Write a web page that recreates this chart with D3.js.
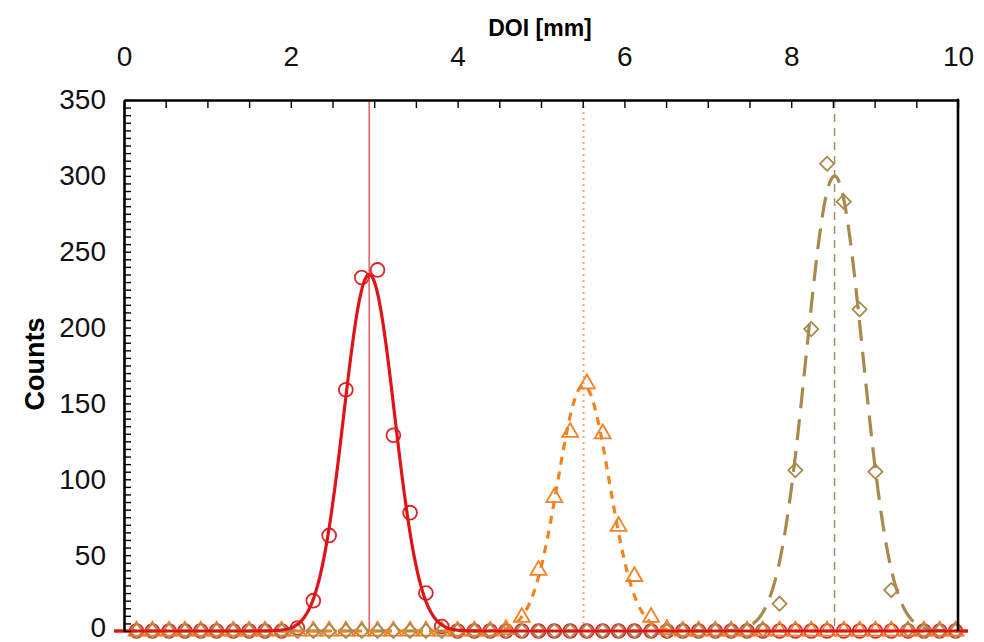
<!DOCTYPE html>
<html>
<head>
<meta charset="utf-8">
<script src="https://cdn.jsdelivr.net/npm/d3@7"></script>
<style>
  body { margin: 0; background: #fff; }
  text { font-family: "Liberation Sans", Arial, sans-serif; }
  .axis path, .axis line { stroke: #000; }
  .axis text { font-size: 28px; fill: #111; }
</style>
</head>
<body>
<div class="chart"></div>
<script>
// bin centres along the DOI axis (mm)
var doi = [0.15, 0.34, 0.54, 0.73, 0.92, 1.11, 1.31, 1.50, 1.69, 1.89,
           2.08, 2.27, 2.46, 2.66, 2.85, 3.04, 3.23, 3.43, 3.62, 3.81,
           4.00, 4.20, 4.39, 4.58, 4.77, 4.97, 5.16, 5.35, 5.55, 5.74,
           5.93, 6.12, 6.32, 6.51, 6.70, 6.89, 7.09, 7.28, 7.47, 7.66,
           7.86, 8.05, 8.24, 8.43, 8.63, 8.82, 9.01, 9.20, 9.40, 9.59,
           9.78, 9.97];

// measured counts, one array per source position
var countsCircle = [0, 0, 0, 0, 0, 0, 0, 0, 0, 0,
                    2, 20, 63, 159, 233, 238, 129, 78, 25, 3,
                    0, 0, 0, 0, 0, 0, 0, 0, 0, 0,
                    0, 0, 0, 0, 0, 0, 0, 0, 0, 0,
                    0, 0, 0, 0, 0, 0, 0, 0, 0, 0,
                    0, 0];
var countsTriangle = [0, 0, 0, 0, 0, 0, 0, 0, 0, 0,
                      0, 0, 0, 0, 0, 0, 0, 0, 0, 0,
                      0, 0, 0, 1, 9, 40, 88, 131, 163, 130,
                      69, 36, 9, 1, 0, 0, 0, 0, 0, 0,
                      0, 0, 0, 0, 0, 0, 0, 0, 0, 0,
                      0, 0];
var countsDiamond = [0, 0, 0, 0, 0, 0, 0, 0, 0, 0,
                     0, 0, 0, 0, 0, 0, 0, 0, 0, 0,
                     0, 0, 0, 0, 0, 0, 0, 0, 0, 0,
                     0, 0, 0, 0, 0, 0, 0, 0, 0, 1,
                     18, 106, 199, 308, 283, 212, 105, 27, 1, 0,
                     0, 0];

// gaussian fit parameters (amplitude, mean, sigma) for each series
var fitAmp = [235, 162, 300];
var fitMean = [2.94, 5.51, 8.52];
var fitSigma = [0.305, 0.31, 0.34];

var xTicksMajor = [0, 2, 4, 6, 8, 10];
var yTicksMajor = [0, 50, 100, 150, 200, 250, 300, 350];

// Set up chart
var svgWidth = 984;
var svgHeight = 642;

var svg = d3.select(".chart")
    .append("svg")
    .attr("width", svgWidth)
    .attr("height", svgHeight);

var x = d3.scaleLinear().domain([0, 10]).range([124, 958]);
var y = d3.scaleLinear().domain([0, 350]).range([631, 100]);

var series = [
    { counts: countsCircle, color: "#d8262a", line: "#df1418", vline: "#e4696b", symbol: d3.symbolCircle, size: 150, rot: 0, dash: null, vdash: null, vwidth: 1.6 },
    { counts: countsTriangle, color: "#f28024", line: "#f38220", vline: "#f4a866", symbol: d3.symbolTriangle, size: 110, rot: 0, dash: "8,7", vdash: "2,4", vwidth: 2 },
    { counts: countsDiamond, color: "#a88a4c", line: "#a88a4c", vline: "#a69276", symbol: d3.symbolSquare, size: 100, rot: 45, dash: "21,11", vdash: "8,6", vwidth: 1.6 }
];

// vertical lines at the fitted means
series.forEach(function (s, i) {
    svg.append("line")
        .attr("x1", x(fitMean[i]))
        .attr("x2", x(fitMean[i]))
        .attr("y1", y(350))
        .attr("y2", y(0))
        .attr("stroke", s.vline)
        .attr("stroke-width", s.vwidth)
        .attr("stroke-dasharray", s.vdash);
});

// markers
series.forEach(function (s) {
    svg.append("g")
        .selectAll("path")
        .data(doi)
        .enter()
        .append("path")
        .attr("d", d3.symbol().type(s.symbol).size(s.size))
        .attr("transform", function (d, i) {
            return "translate(" + x(d) + "," + y(s.counts[i]) + ") rotate(" + s.rot + ")";
        })
        .attr("fill", "none")
        .attr("stroke", s.color)
        .attr("stroke-width", 1.8);
});

// fitted gaussian curves, red drawn last
var xs = d3.range(-0.12, 10.13, 0.02);
var line = d3.line()
    .x(function (d) { return x(d[0]); })
    .y(function (d) { return y(d[1]); });

[2, 1, 0].forEach(function (i) {
    var s = series[i];
    var pts = xs.map(function (v) {
        var z = (v - fitMean[i]) / fitSigma[i];
        return [v, fitAmp[i] * Math.exp(-0.5 * z * z)];
    });
    svg.append("path")
        .datum(pts)
        .attr("d", line)
        .attr("fill", "none")
        .attr("stroke", s.line)
        .attr("stroke-width", 3.2)
        .attr("stroke-dasharray", s.dash);
});

// top axis: minor ticks pointing inward, labels every 2 mm
svg.append("g")
    .attr("class", "axis")
    .attr("transform", "translate(0," + y(350) + ")")
    .call(d3.axisTop(x).tickValues(d3.range(0, 10.01, 0.5)).tickSizeInner(-8).tickSizeOuter(0).tickFormat(""))
    .call(function (g) {
        g.select(".domain").attr("stroke-width", 2.6);
        g.selectAll(".tick line").attr("stroke-width", 1.4);
    });

svg.append("g")
    .attr("class", "axis")
    .attr("transform", "translate(0," + y(350) + ")")
    .call(d3.axisTop(x).tickValues(xTicksMajor).tickSize(0).tickPadding(34))
    .call(function (g) { g.select(".domain").remove(); });

// left axis: ticks every 5 counts
svg.append("g")
    .attr("class", "axis")
    .attr("transform", "translate(" + x(0) + ",0)")
    .call(d3.axisLeft(y).tickValues(d3.range(0, 351, 5)).tickSizeInner(-7).tickSizeOuter(0).tickFormat(""))
    .call(function (g) {
        g.select(".domain").attr("stroke-width", 2.6);
        g.selectAll(".tick line").attr("stroke-width", 1.4);
    });

svg.append("g")
    .attr("class", "axis")
    .attr("transform", "translate(" + x(0) + ",0)")
    .call(d3.axisLeft(y).tickValues(yTicksMajor).tickSize(0).tickPadding(18))
    .call(function (g) {
        g.select(".domain").remove();
        // keep the bottom label inside the picture
        g.selectAll(".tick text").filter(function (d) { return d === 0; }).attr("dy", "0.2em");
    });

// right frame line
svg.append("line")
    .attr("x1", x(10)).attr("x2", x(10))
    .attr("y1", y(350) - 1.3).attr("y2", y(0))
    .attr("stroke", "#000")
    .attr("stroke-width", 2.6);

// axis titles
svg.append("text")
    .attr("x", 540)
    .attr("y", 36)
    .attr("text-anchor", "middle")
    .style("font-size", "23px")
    .style("font-weight", "bold")
    .text("DOI [mm]");

svg.append("text")
    .attr("transform", "translate(44," + 364 + ") rotate(-90)")
    .attr("text-anchor", "middle")
    .style("font-size", "27px")
    .style("font-weight", "bold")
    .text("Counts");
</script>
</body>
</html>
